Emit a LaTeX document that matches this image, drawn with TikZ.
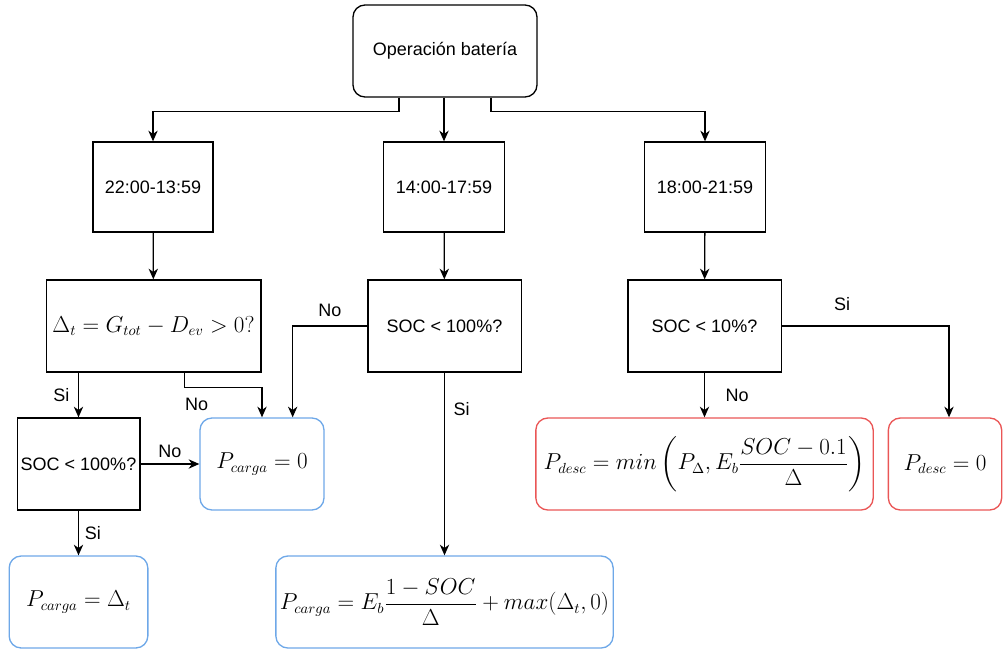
\documentclass[tikz,border=0pt]{standalone}
\usepackage{fontspec}
\setmainfont{Liberation Sans}
\usepackage{amsmath}
\usepackage{tikz}
\usetikzlibrary{arrows.meta}
\definecolor{cargablue}{RGB}{110,168,232}
\definecolor{descred}{RGB}{234,86,86}

\begin{document}
\begin{tikzpicture}[x=0.75pt, y=-0.75pt, line width=1pt,
  every node/.style={font=\fontsize{13.5}{16}\selectfont},
  arr/.style={-{Stealth[length=8pt,width=7pt,inset=2.5pt]}},
  box/.style={draw, inner sep=0pt, minimum height=69pt},
  rbox/.style={box, rounded corners=9pt},
  mbox/.style={rbox, font=\fontsize{16}{19}\selectfont}]
\useasboundingbox (0,0) rectangle (1003,649);
%% \draw[help lines, step=50] (0,0) grid (1003,649);

%% top and the three time slots
\node[rbox, minimum width=138pt] (op) at (445,51) {Operación batería};
\node[box, minimum width=90pt, minimum height=67.5pt] (t1) at (153,187) {22:00-13:59};
\node[box, minimum width=91pt, minimum height=67.5pt] (t2) at (444,187) {14:00-17:59};
\node[box, minimum width=91pt, minimum height=67.5pt] (t3) at (705,187) {18:00-21:59};

%% decisions
\node[box, minimum width=161pt] (d1) at (153.5,326) {\fontsize{16}{19}\selectfont $\Delta_t = G_{tot} - D_{ev} > 0?$};
\node[box, minimum width=92pt] (s1) at (78.5,464) {SOC < 100\%?};
\node[box, minimum width=115pt] (s2) at (444.5,326) {SOC < 100\%?};
\node[box, minimum width=115pt] (s3) at (704.5,326) {SOC < 10\%?};

%% results
\node[mbox, draw=cargablue, minimum width=93pt] (z1) at (262,464) {$P_{carga} = 0$};
\node[mbox, draw=cargablue, minimum width=104pt] (c1) at (78.5,602) {$P_{carga} = \Delta_t$};
\node[mbox, draw=cargablue, minimum width=253pt] (c2) at (444.5,602)
  {$P_{carga} = E_b \dfrac{1-SOC}{\Delta} + max(\Delta_t,0)$};
\node[mbox, draw=descred, minimum width=253pt] (m3) at (704.5,464)
  {$P_{desc} = min\left(P_{\Delta}, E_b \dfrac{SOC-0.1}{\Delta}\right)$};
\node[mbox, draw=descred, minimum width=85pt] (z3) at (945,464) {$P_{desc} = 0$};

%% connectors
\draw[arr] ([xshift=-34.5pt]op.south) -- ++(0,14) -| (t1.north);
\draw[arr] (op.south -| t2.north) -- (t2.north);
\draw[arr] ([xshift=34.5pt]op.south) -- ++(0,14) -| (t3.north);
\draw[arr] (t1) -- (d1);
\draw[arr] (t2) -- (s2);
\draw[arr] (t3) -- (s3);

\draw[arr] (d1.south -| s1.north) -- node[left, xshift=-3pt] (si1) {Si} (s1.north);
\draw[arr] ([xshift=23pt]d1.south) -- ++(0,15) -| (z1.north)
  node[pos=0.08, below=4pt] (no1) {No};
\draw[arr] (s1.east) -- node[above, yshift=1pt] (no2) {No} (z1.west);
\draw[arr] (s1.south) -- node[right, xshift=1pt] (si2) {Si} (c1.north);
\draw[arr] (s2.west) -| ([xshift=23pt]z1.north) node[pos=0.25, above=3pt] (no3) {No};
\draw[arr] (s2.south) -- node[pos=0.2, right, xshift=3pt] (si3) {Si} (c2.north);
\draw[arr] (s3.south) -- node[right, xshift=12pt] (no4) {No} (m3.north);
\draw[arr] (s3.east) -| ([xshift=3pt]z3.north) node[pos=0.18, above=8pt] (si4) {Si};
\end{tikzpicture}
\end{document}
